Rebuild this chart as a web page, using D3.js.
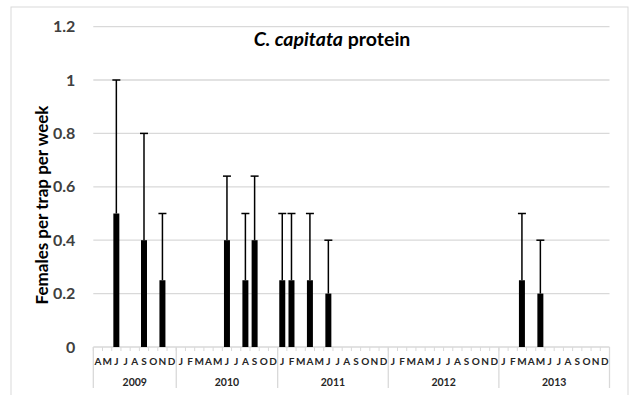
<!DOCTYPE html>
<html><head><meta charset="utf-8">
<script src="https://cdn.jsdelivr.net/npm/d3@7"></script>
<style>body{margin:0;background:#fff;} svg{display:block;font-family:Lato,"Open Sans",sans-serif;}</style>
</head><body><svg id="c" width="630" height="395"></svg>
<script>
const years = ["2009","2010","2011","2012","2013"];
const months2009 = ["A","M","J","J","A","S","O","N","D"];
const months2010 = ["J","F","M","A","M","J","J","A","S","O","D"];
const months2011 = ["J","F","M","A","M","J","J","A","S","O","N","D"];
const months2012 = ["J","F","M","A","M","J","J","A","S","O","N","D"];
const months2013 = ["J","F","M","A","M","J","J","A","S","O","N","D"];
const values2009 = [0,0,0.5,0,0,0.4,0,0.25,0];
const values2010 = [0,0,0,0,0,0.4,0,0.25,0.4,0,0];
const values2011 = [0.25,0.25,0,0.25,0,0.2,0,0,0,0,0,0];
const values2012 = [0,0,0,0,0,0,0,0,0,0,0,0];
const values2013 = [0,0,0.25,0,0.2,0,0,0,0,0,0,0];
const errors2009 = [0,0,0.5,0,0,0.4,0,0.25,0];
const errors2010 = [0,0,0,0,0,0.24,0,0.25,0.24,0,0];
const errors2011 = [0.25,0.25,0,0.25,0,0.2,0,0,0,0,0,0];
const errors2012 = [0,0,0,0,0,0,0,0,0,0,0,0];
const errors2013 = [0,0,0.25,0,0.2,0,0,0,0,0,0,0];
const yTicks = [0,0.2,0.4,0.6,0.8,1,1.2];

const monthsByYear = [months2009,months2010,months2011,months2012,months2013];
const valsByYear = [values2009,values2010,values2011,values2012,values2013];
const errsByYear = [errors2009,errors2010,errors2011,errors2012,errors2013];
const cats = [];
monthsByYear.forEach((ms,yi)=>ms.forEach((m,mi)=>cats.push({id:years[yi]+"-"+mi,year:years[yi],m,v:valsByYear[yi][mi],e:errsByYear[yi][mi]})));

const svg = d3.select("#c");
const L=93.3,R=609.5,T=26.6,B=347;
const grey="#d9d9d9";
svg.append("rect").attr("x",11).attr("y",7).attr("width",617).attr("height",400).attr("fill","none").attr("stroke",grey).attr("stroke-width",1);

const x = d3.scaleBand().domain(cats.map(d=>d.id)).range([L,R]).paddingInner(0.35).paddingOuter(0.175);
const y = d3.scaleLinear().domain([0,1.2]).range([B,T]);
const step = x.step();

// gridlines
svg.append("g").selectAll("line").data(yTicks.filter(t=>t>0)).join("line")
  .attr("x1",L).attr("x2",R).attr("y1",d=>y(d)).attr("y2",d=>y(d)).attr("stroke",grey).attr("stroke-width",1.3);
// y axis
const ya = svg.append("g").attr("transform",`translate(${L-15},0)`).call(d3.axisLeft(y).tickValues(yTicks).tickSize(0).tickFormat(d=>String(d)));
ya.select(".domain").remove();
ya.selectAll("text").attr("font-family","Lato").attr("font-weight","bold").attr("font-size",16).attr("fill","#404040");

// x axis line
svg.append("line").attr("x1",L).attr("x2",R).attr("y1",B).attr("y2",B).attr("stroke",grey).attr("stroke-width",1.3);
// category ticks
svg.append("g").selectAll("line").data(cats).join("line")
  .attr("x1",d=>x(d.id)-(step-x.bandwidth())/2).attr("x2",d=>x(d.id)-(step-x.bandwidth())/2)
  .attr("y1",B).attr("y2",B+4).attr("stroke",grey);
// month labels
svg.append("g").selectAll("text").data(cats).join("text")
  .attr("x",d=>x(d.id)+x.bandwidth()/2).attr("y",B+18).attr("text-anchor","middle")
  .attr("font-size",10).attr("font-weight","bold").attr("fill","#262626").text(d=>d.m);
// year separators and labels
const yearSpans = years.map(yr=>{const c=cats.filter(d=>d.year===yr);return {yr,x0:x(c[0].id)-(step-x.bandwidth())/2,x1:x(c[c.length-1].id)+x.bandwidth()+(step-x.bandwidth())/2};});
const seps=[yearSpans[0].x0,...yearSpans.map(s=>s.x1)];
svg.append("g").selectAll("line").data(seps).join("line")
  .attr("x1",d=>d).attr("x2",d=>d).attr("y1",B).attr("y2",388).attr("stroke",grey).attr("stroke-width",1.3);
svg.append("g").selectAll("text").data(yearSpans).join("text")
  .attr("x",d=>(d.x0+d.x1)/2).attr("y",386).attr("text-anchor","middle")
  .attr("font-size",10.5).attr("font-weight","bold").attr("fill","#262626").text(d=>d.yr);

// bars
const bars = cats.filter(d=>d.v>0);
svg.append("g").selectAll("rect").data(bars).join("rect")
  .attr("x",d=>x(d.id)).attr("width",x.bandwidth()).attr("y",d=>y(d.v)).attr("height",d=>y(0)-y(d.v)).attr("fill","#000");
// error bars
const eb = svg.append("g").attr("stroke","#000").attr("stroke-width",1.5);
eb.selectAll("line.v").data(bars).join("line").attr("class","v")
  .attr("x1",d=>x(d.id)+x.bandwidth()/2).attr("x2",d=>x(d.id)+x.bandwidth()/2)
  .attr("y1",d=>y(d.v)).attr("y2",d=>y(d.v+d.e));
eb.selectAll("line.c").data(bars).join("line").attr("class","c")
  .attr("x1",d=>x(d.id)+x.bandwidth()/2-4).attr("x2",d=>x(d.id)+x.bandwidth()/2+4)
  .attr("y1",d=>y(d.v+d.e)).attr("y2",d=>y(d.v+d.e));

// title
const t = svg.append("text").attr("x",332).attr("y",46).attr("text-anchor","middle").attr("font-size",19.5).attr("font-weight","bold").attr("fill","#000");
t.append("tspan").attr("font-style","italic").text("C. capitata");
t.append("tspan").text(" protein");
// y title
svg.append("text").attr("transform","translate(48,205) rotate(-90)").attr("text-anchor","middle")
  .attr("font-size",17).attr("font-weight","bold").attr("fill","#000").text("Females per trap per week");
</script></body></html>
